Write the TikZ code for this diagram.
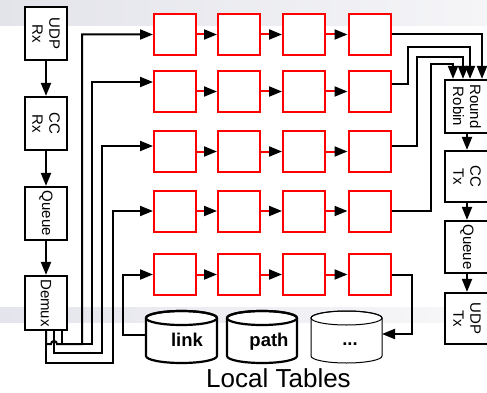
\documentclass[tikz,border=0pt]{standalone}
\usepackage{fontspec}
\setmainfont{Liberation Sans}
\usetikzlibrary{arrows.meta}
\begin{document}
\begin{tikzpicture}[x=1pt,y=-1pt,
  blk/.style={draw=black, line width=2.2pt, fill=white, rotate=-90, align=center,
    inner sep=0pt, font=\fontsize{15}{17}\selectfont},
  qbox/.style={draw=red, line width=2pt, fill=white, minimum width=42pt,
    minimum height=41pt, inner sep=0pt},
  conn/.style={draw=black, line width=2pt, -{Triangle[length=13pt,width=10pt]}},
  rconn/.style={draw=red, line width=2pt, -{Triangle[length=13pt,width=10pt,color=black]}},
  cyl/.style={draw=black, line width=2.2pt, fill=white},
  lbl/.style={font=\bfseries\fontsize{18.5}{20}\selectfont, anchor=base}
]
\useasboundingbox (0,0) rectangle (487,393);
% background bands
\shade[left color={rgb,255:red,227;green,228;blue,234}, right color={rgb,255:red,245;green,245;blue,248}]
  (0,0) rectangle (487,26);
\shade[left color={rgb,255:red,228;green,228;blue,236}, right color={rgb,255:red,248;green,248;blue,250}]
  (0,307) rectangle (487,322);

% left column
\node[blk, minimum width=53pt, minimum height=42pt] (udprx) at (46,33.5) {UDP\\Rx};
\node[blk, minimum width=53pt, minimum height=42pt] (ccrx) at (46,123.5) {CC\\Rx};
\node[blk, minimum width=53pt, minimum height=42pt] (qrx) at (46,213.5) {Queue};
\node[blk, minimum width=54pt, minimum height=42pt] (demux) at (46,303) {Demux};
\draw[conn] (udprx.east) -- (ccrx.west);
\draw[conn] (ccrx.east) -- (qrx.west);
\draw[conn] (qrx.east) -- (demux.west);

% right column
\node[blk, minimum width=53pt, minimum height=44pt] (rr) at (467,106.5) {Round\\Robin};
\node[blk, minimum width=51pt, minimum height=44pt] (cctx) at (467,176.5) {CC\\Tx};
\node[blk, minimum width=52pt, minimum height=44pt] (qtx) at (467,247) {Queue};
\node[blk, minimum width=51pt, minimum height=44pt] (udptx) at (467,318.5) {UDP\\Tx};
\draw[conn] (rr.east) -- (cctx.west);
\draw[conn] (cctx.east) -- (qtx.west);
\draw[conn] (qtx.east) -- (udptx.west);

% red grid
\foreach \r/\y in {1/34.5,2/91.5,3/151.5,4/211,5/274.5}{
  \foreach \c/\x in {1/175,2/239,3/304,4/369.5}{
    \node[qbox] (r\r\c) at (\x,\y) {};
  }
}
\foreach \r in {1,...,5}{
  \foreach \c/\n in {1/2,2/3,3/4}{
    \draw[rconn] (r\r\c.east) -- (r\r\n.west);
  }
}

% cylinders
\draw[cyl] (146,318) -- (146,356) arc[start angle=180,end angle=360,x radius=35.5pt,y radius=7pt]
  -- (217,318) arc[start angle=0,end angle=180,x radius=35.5pt,y radius=7pt] -- cycle;
\draw[line width=2.2pt] (181.5,318) ellipse[x radius=35.5pt,y radius=7pt];
\draw[cyl] (227,318) -- (227,356) arc[start angle=180,end angle=360,x radius=35pt,y radius=7pt]
  -- (297,318) arc[start angle=0,end angle=180,x radius=35pt,y radius=7pt] -- cycle;
\draw[line width=2.2pt] (262,318) ellipse[x radius=35pt,y radius=7pt];
\draw[cyl, line width=1pt] (311,318) -- (311,356) arc[start angle=180,end angle=360,x radius=35.5pt,y radius=7pt]
  -- (382,318) arc[start angle=0,end angle=180,x radius=35.5pt,y radius=7pt] -- cycle;
\draw[line width=1pt] (346.5,318) ellipse[x radius=35.5pt,y radius=7pt];
\node[lbl] (linktxt) at (187,346) {link};
\node[lbl] (pathtxt) at (269,346) {path};
\node[lbl] (dotstxt) at (350,345.5) {...};
\coordinate (linkW) at (146,335);
\coordinate (dotsE) at (382,334);
\node[font=\fontsize{26}{28}\selectfont, anchor=base] (lt) at (278.5,387) {Local Tables};

% demux to rows
\draw[conn] (demux.east) |- (113,363) |- (r41.west);
\draw[conn] ([xshift=8pt]demux.east) |- (102,353) |- ([yshift=5.5pt]r31.west);
\draw[conn] ([xshift=16pt]demux.east) |- (92,344) |- ([yshift=9.5pt]r21.west);
\draw[conn] (demux.east) -- (46,344) -- (51,344)
  arc[start angle=180,end angle=0,radius=3pt] -- (82,344) |- (r11.west);

% row 5 loop
\draw[conn] (linkW) -- (123,335) |- (r51.west);
\draw[conn] (r54.east) -| (412,334) -- (dotsE);

% rows to round robin
\draw[conn] (r14.east) -| ([xshift=15pt]rr.west);
\draw[conn] ([yshift=7.5pt]r24.east) -| (408,47) -| ([xshift=3pt]rr.west);
\draw[conn] ([yshift=5.5pt]r34.east) -| (417,57) -| ([xshift=-4pt]rr.west);
\draw[conn] (r44.east) -| (431,64) -| ([xshift=-14pt]rr.west);
\end{tikzpicture}
\end{document}
